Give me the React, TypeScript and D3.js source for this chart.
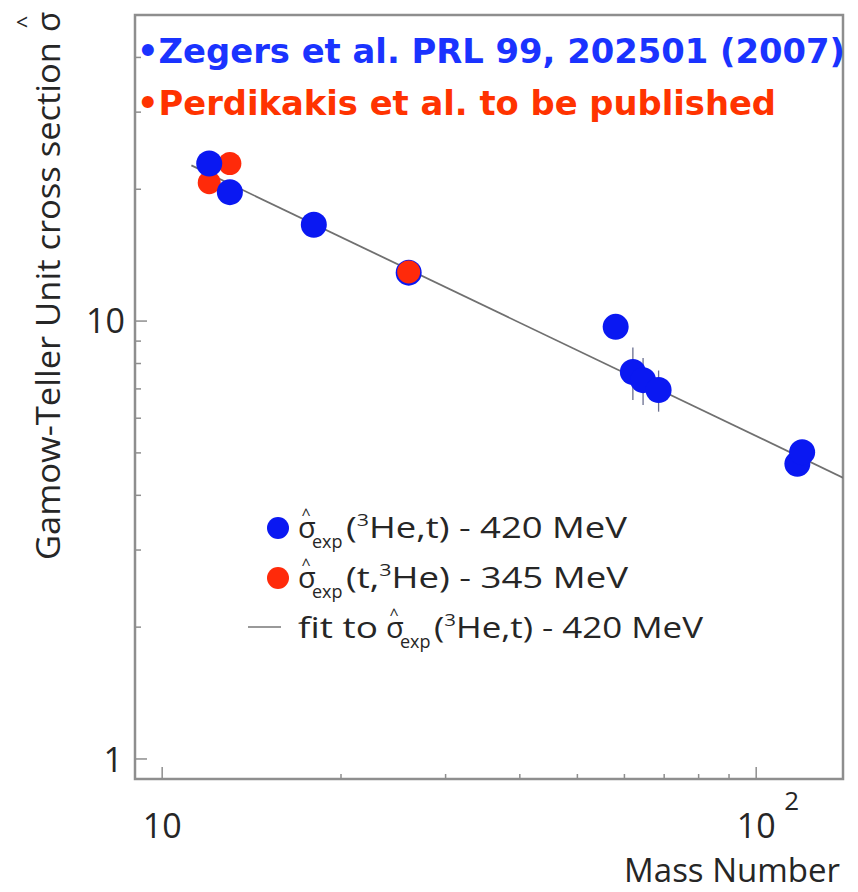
import React from "react";
import * as d3 from "d3";

// ---- data ----
const blueMass = [12, 13, 18, 26, 58, 62, 64.5, 68.5, 117.3, 119.5];
const blueSigma = [22.9, 19.7, 16.6, 12.9, 9.7, 7.65, 7.33, 6.96, 4.72, 5.02];
const blueErr = [0, 0, 0, 0, 0, 1.05, 0.9, 0.75, 0, 0];
const redMass = [13, 12, 26];
const redSigma = [22.9, 20.7, 12.95];
const fitCoef = 109;
const fitExp = -0.65;
const fitRange = [11.2, 150];
const xMajor = [10, 100];
const xMinor = [20, 30, 40, 50, 60, 70, 80, 90];
const yMajor = [1, 10];
const yMinor = [2, 3, 4, 5, 6, 7, 8, 9, 20, 30, 40];

const W = 858;
const H = 892;
const L = 135, R = 843, T = 15, B = 779;

const BLUE = "#0a18f2";
const RED = "#ff2a0a";
const TXT = "#262626";
const SANS = "'Open Sans', 'DejaVu Sans', sans-serif";

function SigmaExp({ x, y }: { x: number; y: number }) {
  return (
    <g fill={TXT} fontFamily={SANS}>
      <text x={x} y={y} fontSize={29}>σ</text>
      <text x={x + 8} y={y - 18} fontSize={16} textAnchor="middle">^</text>
      <text x={x + 14} y={y + 10} fontSize={18}>exp</text>
    </g>
  );
}

export default function App() {
  const x = d3.scaleLog().domain([9, 140]).range([L, R]);
  const y = d3.scaleLog().domain([0.9, 50]).range([B, T]);
  const fitLine = d3
    .line<number>()
    .x((a) => x(a))
    .y((a) => y(fitCoef * Math.pow(a, fitExp)));
  const fitPts = [fitRange[0], fitRange[1]];

  const blue = blueMass.map((m, i) => ({ m, s: blueSigma[i], e: blueErr[i] }));
  const red = redMass.map((m, i) => ({ m, s: redSigma[i] }));
  const overlapping = (p: { m: number; s: number }) =>
    blue.some((b) => b.m === p.m && Math.abs(b.s - p.s) / b.s < 0.05);

  return (
    <svg
      width={W}
      height={H}
      style={{ position: "absolute", left: 0, top: 0, background: "#fff" }}
    >
      <defs>
        <clipPath id="plot">
          <rect x={L} y={T} width={R - L} height={B - T} />
        </clipPath>
      </defs>

      {/* frame */}
      <rect x={L} y={T} width={R - L} height={B - T} fill="#fff" stroke="#8e8e8e" strokeWidth={2.5} />

      {/* ticks */}
      <g stroke="#8e8e8e" strokeWidth={1.5}>
        {yMajor.map((v) => (
          <line key={"ym" + v} x1={L} x2={L + 12} y1={y(v)} y2={y(v)} />
        ))}
        {yMinor.map((v) => (
          <line key={"yn" + v} x1={L} x2={L + 6} y1={y(v)} y2={y(v)} />
        ))}
        {xMajor.map((v) => (
          <line key={"xm" + v} x1={x(v)} x2={x(v)} y1={B} y2={B - 12} />
        ))}
        {xMinor.map((v) => (
          <line key={"xn" + v} x1={x(v)} x2={x(v)} y1={B} y2={B - 5} />
        ))}
      </g>

      {/* fit line */}
      <g clipPath="url(#plot)">
        <path d={fitLine(fitPts) || ""} stroke="#707070" strokeWidth={1.8} fill="none" />
        {/* error bars */}
        {blue
          .filter((p) => p.e > 0)
          .map((p, i) => (
            <line
              key={"e" + i}
              x1={x(p.m)}
              x2={x(p.m)}
              y1={y(p.s - p.e)}
              y2={y(p.s + p.e)}
              stroke="#6a6f90"
              strokeWidth={1.3}
            />
          ))}
        {/* red points (behind) */}
        {red
          .filter((p) => !overlapping(p))
          .map((p, i) => (
            <circle key={"r" + i} cx={x(p.m)} cy={y(p.s)} r={11.5} fill={RED} />
          ))}
        {/* blue points */}
        {blue.map((p, i) => (
          <circle key={"b" + i} cx={x(p.m)} cy={y(p.s)} r={13} fill={BLUE} />
        ))}
        {/* red points on top of coincident blue */}
        {red
          .filter((p) => overlapping(p))
          .map((p, i) => (
            <circle key={"ro" + i} cx={x(p.m)} cy={y(p.s)} r={11.5} fill={RED} />
          ))}
      </g>

      {/* titles */}
      <text x={137} y={63} fontFamily="'DejaVu Sans', sans-serif" fontWeight="bold" fontSize={33} fill="#1a33ff" textLength={708} lengthAdjust="spacingAndGlyphs">
        •Zegers et al. PRL 99, 202501 (2007)
      </text>
      <text x={137} y={115} fontFamily="'DejaVu Sans', sans-serif" fontWeight="bold" fontSize={33} fill="#ff3300" textLength={639} lengthAdjust="spacingAndGlyphs">
        •Perdikakis et al. to be published
      </text>

      {/* axis tick labels */}
      <g fontFamily={SANS} fontSize={34} fill={TXT}>
        <text x={125} y={y(10) + 12} textAnchor="end">10</text>
        <text x={123} y={y(1) + 13} textAnchor="end">1</text>
        <text x={x(10)} y={838} textAnchor="middle">10</text>
        <text x={x(100)} y={838} textAnchor="middle">10</text>
        <text x={x(100) + 28} y={810} fontSize={26}>2</text>
        <text x={840} y={882} textAnchor="end" fontSize={33}>Mass Number</text>
      </g>

      {/* y axis label */}
      <g fontFamily={SANS} fill={TXT}>
        <text transform="translate(60,560) rotate(-90)" fontSize={33} textLength={518} lengthAdjust="spacingAndGlyphs">
          Gamow-Teller Unit cross section
        </text>
        <text transform="translate(60,32) rotate(-90)" fontSize={33}>σ</text>
        <text transform="translate(33,22) rotate(-90)" fontSize={22} textAnchor="middle">^</text>
      </g>

      {/* legend */}
      <circle cx={278} cy={528} r={11} fill={BLUE} />
      <circle cx={278} cy={578} r={11} fill={RED} />
      <line x1={248} x2={281} y1={627} y2={627} stroke="#777" strokeWidth={1.5} />
      <g fontFamily={SANS} fill={TXT} fontSize={29}>
        <SigmaExp x={298} y={538} />
        <text x={346} y={538} textLength={281} lengthAdjust="spacingAndGlyphs">
          (<tspan fontSize={17} dy={-12}>3</tspan>
          <tspan dy={12}>He,t) - 420 MeV</tspan>
        </text>
        <SigmaExp x={298} y={588} />
        <text x={346} y={588} textLength={282} lengthAdjust="spacingAndGlyphs">
          (t,<tspan fontSize={17} dy={-12}>3</tspan>
          <tspan dy={12}>He) - 345 MeV</tspan>
        </text>
        <text x={298} y={638} textLength={80} lengthAdjust="spacingAndGlyphs">fit to</text>
        <SigmaExp x={386} y={638} />
        <text x={434} y={638} textLength={269} lengthAdjust="spacingAndGlyphs">
          (<tspan fontSize={17} dy={-12}>3</tspan>
          <tspan dy={12}>He,t) - 420 MeV</tspan>
        </text>
      </g>
    </svg>
  );
}
